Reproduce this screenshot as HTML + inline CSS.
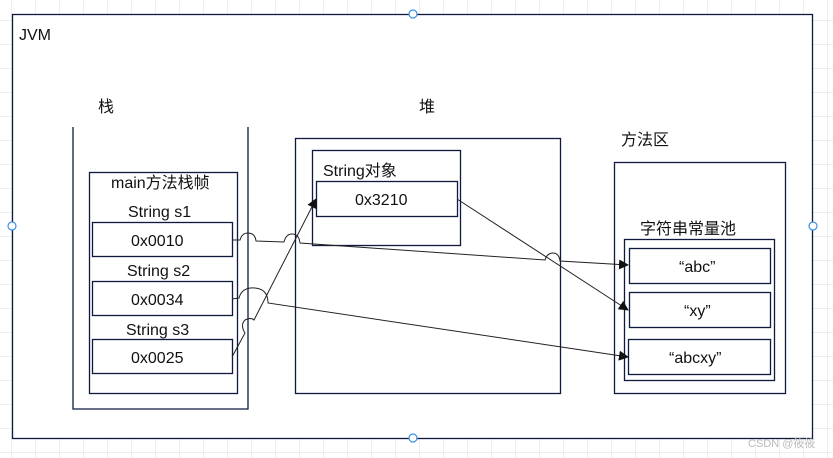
<!DOCTYPE html>
<html><head><meta charset="utf-8"><style>
html,body{margin:0;padding:0;background:#fff;width:833px;height:458px;overflow:hidden}
svg text{font-family:"Liberation Sans","Noto Sans CJK SC",sans-serif;fill:#111;font-size:16px}
</style></head><body>
<svg width="833" height="458" xmlns="http://www.w3.org/2000/svg">
<defs>
<pattern id="g" width="24" height="24" patternUnits="userSpaceOnUse" x="11" y="-4">
<path d="M0 0H24M0 0V24" stroke="#dedede" stroke-width="1" fill="none"/></pattern>
<marker id="a" markerWidth="10" markerHeight="10" refX="9" refY="5" orient="auto" markerUnits="userSpaceOnUse">
<path d="M0 0L10 5L0 10Z" fill="#111"/></marker>
</defs>
<rect width="833" height="458" fill="url(#g)"/>
<rect x="12.5" y="14.5" width="800" height="424" fill="#fff" stroke="#0f1a40" stroke-width="1.3"/>
<text x="19" y="40">JVM</text>
<g fill="none" stroke="#0f1a40" stroke-width="1.3">
<path d="M73 127V409H248V127"/>
<rect x="89.5" y="172.5" width="148" height="221"/>
<rect x="92.5" y="222.5" width="140" height="34"/>
<rect x="92.5" y="281.5" width="140" height="34"/>
<rect x="92.5" y="339.5" width="140" height="34"/>
<rect x="295.5" y="138.5" width="265" height="255"/>
<rect x="312.5" y="150.5" width="148" height="95"/>
<rect x="316.5" y="181.5" width="141" height="35"/>
<rect x="614.5" y="162.5" width="171" height="231"/>
<rect x="624.5" y="239.5" width="150" height="141"/>
<rect x="629.5" y="248.5" width="141" height="35"/>
<rect x="629.5" y="292.5" width="141" height="35"/>
<rect x="628.5" y="339.5" width="142" height="35"/>
</g>
<text x="98" y="112">栈</text>
<text x="419" y="112">堆</text>
<text x="621" y="145">方法区</text>
<text x="111" y="188">main方法栈帧</text>
<text x="128" y="217">String s1</text>
<text x="127" y="276">String s2</text>
<text x="126" y="335">String s3</text>
<text x="131" y="246">0x0010</text>
<text x="131" y="305">0x0034</text>
<text x="131" y="363">0x0025</text>
<text x="323" y="176">String对象</text>
<text x="355" y="205">0x3210</text>
<text x="640" y="234">字符串常量池</text>
<text x="679" y="272">“abc”</text>
<text x="684" y="316">“xy”</text>
<text x="669" y="363">“abcxy”</text>
<g fill="none" stroke="#222" stroke-width="1">
<path d="M232 240L240 240Q242 233 248 233Q255 233 256 241L284 242Q286 234 292 234Q299 234 300 243L545 260Q547 253 553 253Q559 253 560 261L628 265" marker-end="url(#a)"/>
<path d="M232 299L239 298Q242 287 255 288Q268 289 268 303L628 357" marker-end="url(#a)"/>
<path d="M232 357L245 333Q240 325 245 320Q251 317 254 320L316 199" marker-end="url(#a)"/>
<path d="M457 199L628 310" marker-end="url(#a)"/>
</g>
<g fill="#fff" stroke="#3b8fe8" stroke-width="1.2">
<circle cx="413" cy="14" r="4"/><circle cx="12" cy="226" r="4"/><circle cx="813" cy="226" r="4"/><circle cx="413" cy="438" r="4"/>
</g>
<text x="748" y="447" style="font-size:11px;fill:#bbb">CSDN @筱筱</text>
</svg>
</body></html>
